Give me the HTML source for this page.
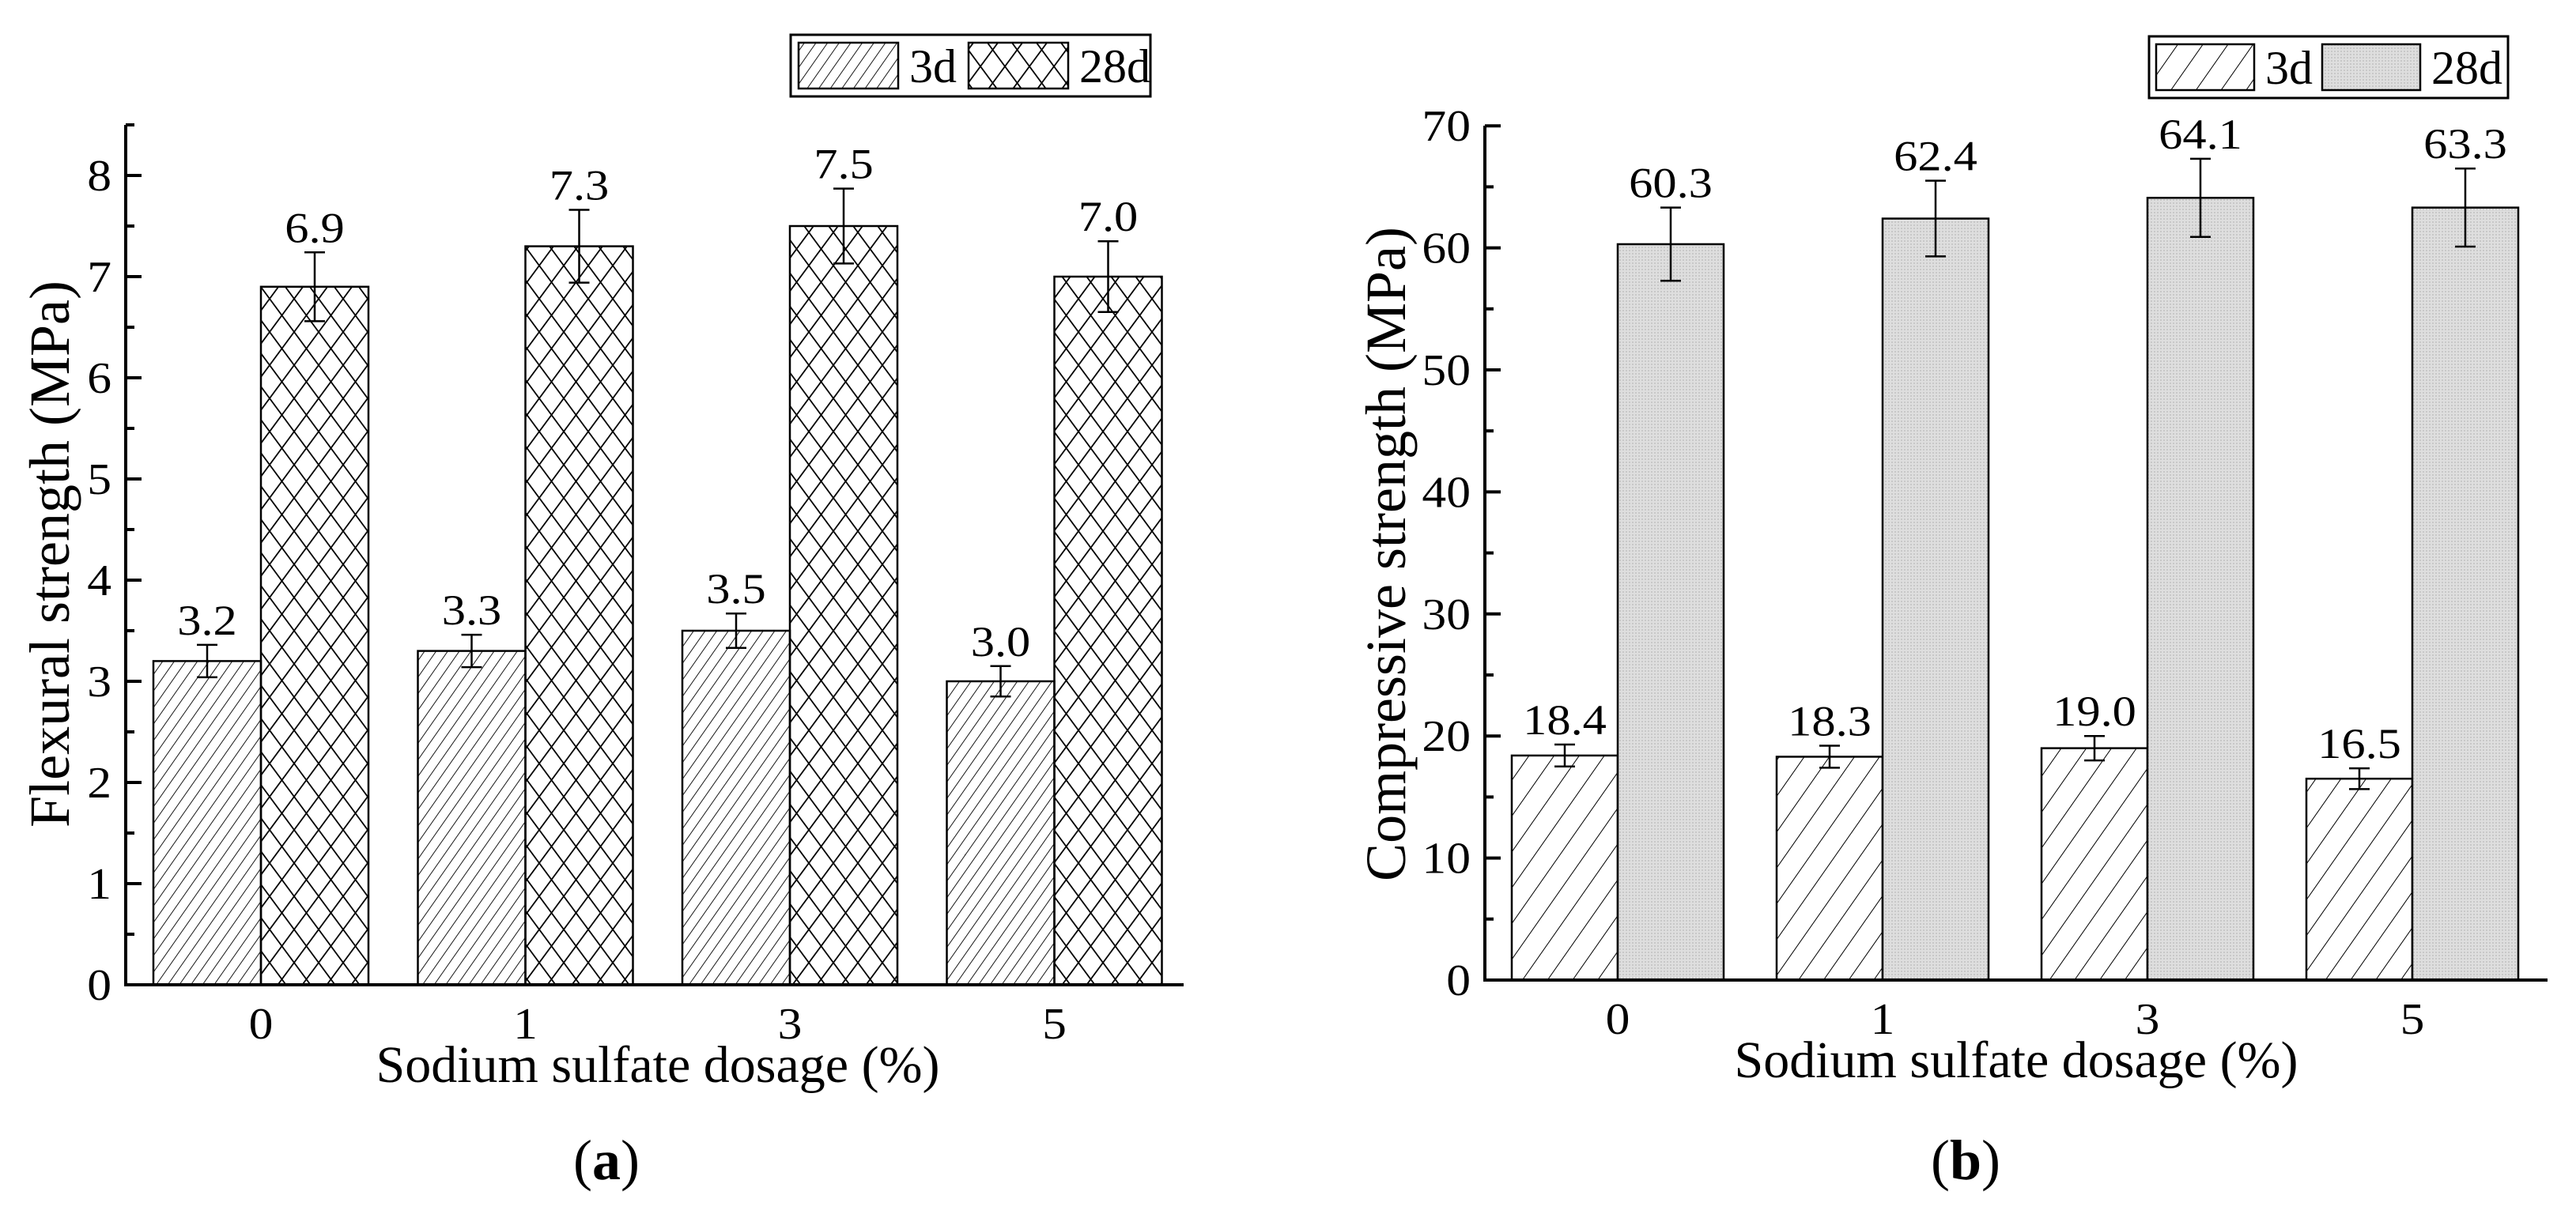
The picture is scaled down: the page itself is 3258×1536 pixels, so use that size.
<!DOCTYPE html>
<html><head><meta charset="utf-8"><style>
html,body{margin:0;padding:0;background:#fff;}
svg{display:block;font-family:"Liberation Serif","Times New Roman",serif;}
</style></head><body>
<svg id="fig" width="3258" height="1536" viewBox="0 0 3258 1536" xmlns="http://www.w3.org/2000/svg">
<defs>
<pattern id="hatchDense" width="12" height="12" patternUnits="userSpaceOnUse" patternTransform="rotate(35)"><line x1="0" y1="0" x2="0" y2="12" stroke="#000" stroke-width="1.8"/></pattern>
<pattern id="cross" width="31" height="42" patternUnits="userSpaceOnUse"><path d="M0,0 L31,42 M31,0 L0,42 M-15.5,21 L0,42 M46.5,21 L31,42" stroke="#000" stroke-width="1.8" fill="none"/></pattern>
<pattern id="hatchSparse" width="26" height="26" patternUnits="userSpaceOnUse" patternTransform="rotate(35)"><line x1="0" y1="0" x2="0" y2="26" stroke="#000" stroke-width="2"/></pattern>
<pattern id="gray" width="4" height="4" patternUnits="userSpaceOnUse"><rect width="4" height="4" fill="#dedede"/><rect width="2" height="2" fill="#c8c8c8"/></pattern>
</defs>
<g id="root"></g>
</svg>
<script>
const catsA = ["0","1","3","5"];
const a3d = [3.2,3.3,3.5,3.0];
const a28d = [6.9,7.3,7.5,7.0];
const a3dErr = [0.16,0.16,0.17,0.15];
const a28dErr = [0.34,0.36,0.37,0.35];
const a3dLbl = ["3.2","3.3","3.5","3.0"];
const a28dLbl = ["6.9","7.3","7.5","7.0"];
const aTicks = [0,1,2,3,4,5,6,7,8];

const catsB = ["0","1","3","5"];
const b3d = [18.4,18.3,19.0,16.5];
const b28d = [60.3,62.4,64.1,63.3];
const b3dErr = [0.9,0.9,1.0,0.85];
const b28dErr = [3.0,3.1,3.2,3.2];
const b3dLbl = ["18.4","18.3","19.0","16.5"];
const b28dLbl = ["60.3","62.4","64.1","63.3"];
const bTicks = [0,10,20,30,40,50,60,70];

const NS="http://www.w3.org/2000/svg";
const root=document.getElementById('root');
function mk(tag,attrs,parent,text){const e=document.createElementNS(NS,tag);for(const k in attrs)e.setAttribute(k,attrs[k]);if(text!==undefined)e.textContent=text;(parent||root).appendChild(e);return e;}
function stext(x,y,size,sx,anchor,parent,str,rot){
  const tr=`translate(${x} ${y})`+(rot?` rotate(${rot})`:'')+` scale(${sx} 1)`;
  return mk('text',{x:0,y:0,'font-size':size,'text-anchor':anchor,transform:tr},parent,str);
}

function chart(cfg){
  const g=mk('g',{});
  
  
  const y=v=>cfg.base-(v-cfg.ymin)*cfg.ppu;
  const xc=i=>cfg.c0+i*cfg.step;
  const bw=cfg.bw;
  cfg.cats.forEach((c,i)=>{
    const r1=mk('rect',{x:xc(i)-bw,y:y(cfg.s1[i]),width:bw,height:cfg.base-y(cfg.s1[i]),fill:cfg.f1,stroke:'#000','stroke-width':2.5},g);
    
    
    const r2=mk('rect',{x:xc(i),y:y(cfg.s2[i]),width:bw,height:cfg.base-y(cfg.s2[i]),fill:cfg.f2,stroke:'#000','stroke-width':2.5},g);
    
    
    [[cfg.s1,cfg.e1,cfg.l1,xc(i)-bw/2,'3d'],[cfg.s2,cfg.e2,cfg.l2,xc(i)+bw/2,'28d']].forEach(([s,e,l,cx,sn])=>{
      const t=y(s[i]+e[i]),b=y(s[i]-e[i]);
      const eb=mk('path',{d:`M${cx},${t}V${b}M${cx-13},${t}H${cx+13}M${cx-13},${b}H${cx+13}`,stroke:'#000','stroke-width':2.5,fill:'none'},g);
      
      
      const tl=stext(cx,t-13,54,1.12,'middle',g,l[i]);
      
      
    });
    const xt=stext(xc(i),cfg.base+68,56,1.1,'middle',g,c);
    
    
  });
  const ax=mk('path',{d:`M${cfg.ax},${cfg.top}V${cfg.base}H${cfg.right}`,stroke:'#000','stroke-width':4,fill:'none'},g);
  
  
  cfg.ticks.forEach((t,k)=>{
    const tk=mk('line',{x1:cfg.ax,x2:cfg.ax+20,y1:y(t),y2:y(t),stroke:'#000','stroke-width':4},g);
    
    
    const tl=stext(cfg.ax-18,y(t)+19,56,1.1,'end',g,String(t));
    
    
    if(k<cfg.ticks.length-1 || cfg.extraMinor){
      const m=t+(cfg.ticks[1]-cfg.ticks[0])/2;
      const mt=mk('line',{x1:cfg.ax,x2:cfg.ax+11,y1:y(m),y2:y(m),stroke:'#000','stroke-width':4},g);
      
      
    }
  });
  const yt=stext(cfg.ytx+24,cfg.yty,72,1.0,'middle',g,cfg.ytitle,-90);
  
  
  const xtt=stext(cfg.xtx,cfg.xty+23,66,1.0,'middle',g,'Sodium sulfate dosage (%)');
  
  
  const L=cfg.leg;
  const lb=mk('rect',{x:L.x,y:L.y,width:L.w,height:L.h,fill:'#fff',stroke:'#000','stroke-width':3},g);
  
  
  const s1=mk('rect',{x:L.s1,y:L.y+10,width:L.sw,height:L.h-20,fill:cfg.f1,stroke:'#000','stroke-width':2.5},g);
  
  
  const t1=mk('text',{x:L.s1+L.sw+14,y:L.y+L.h/2+21,'font-size':60},g,'3d');
  
  
  const s2=mk('rect',{x:L.s2,y:L.y+10,width:L.sw,height:L.h-20,fill:cfg.f2,stroke:'#000','stroke-width':2.5},g);
  
  
  const t2=mk('text',{x:L.s2+L.sw+14,y:L.y+L.h/2+21,'font-size':60},g,'28d');
  
  
  const cap=mk('text',{x:cfg.capx,y:cfg.capy+25,'font-size':72,'text-anchor':'middle'},g);
  
  
  mk('tspan',{},cap,'(');
  mk('tspan',{'font-weight':'bold'},cap,cfg.capLetter);
  mk('tspan',{},cap,')');
}

chart({name:'chart-a-flexural',cats:catsA,s1:a3d,s2:a28d,e1:a3dErr,e2:a28dErr,l1:a3dLbl,l2:a28dLbl,ticks:aTicks,
  ymin:0,ppu:128,base:1246,top:158,ax:159,right:1497,c0:330,step:334.5,bw:136,
  f1:'url(#hatchDense)',f2:'url(#cross)',ytitle:'Flexural strength (MPa)',ytx:63,yty:701,xtx:832,xty:1346,
  leg:{x:1000,y:44,w:455,h:78,s1:1010,s2:1225,sw:126},capx:767,capy:1467,capLetter:'a',extraMinor:true});

chart({name:'chart-b-compressive',cats:catsB,s1:b3d,s2:b28d,e1:b3dErr,e2:b28dErr,l1:b3dLbl,l2:b28dLbl,ticks:bTicks,
  ymin:0,ppu:15.44,base:1240,top:159,ax:1878,right:3222,c0:2046,step:335,bw:134,
  f1:'url(#hatchSparse)',f2:'url(#gray)',ytitle:'Compressive strength (MPa)',ytx:1753,yty:701,xtx:2550,xty:1340,
  leg:{x:2718,y:46,w:454,h:78,s1:2727,s2:2937,sw:124},capx:2486,capy:1467,capLetter:'b',extraMinor:false});
</script>
</body></html>
